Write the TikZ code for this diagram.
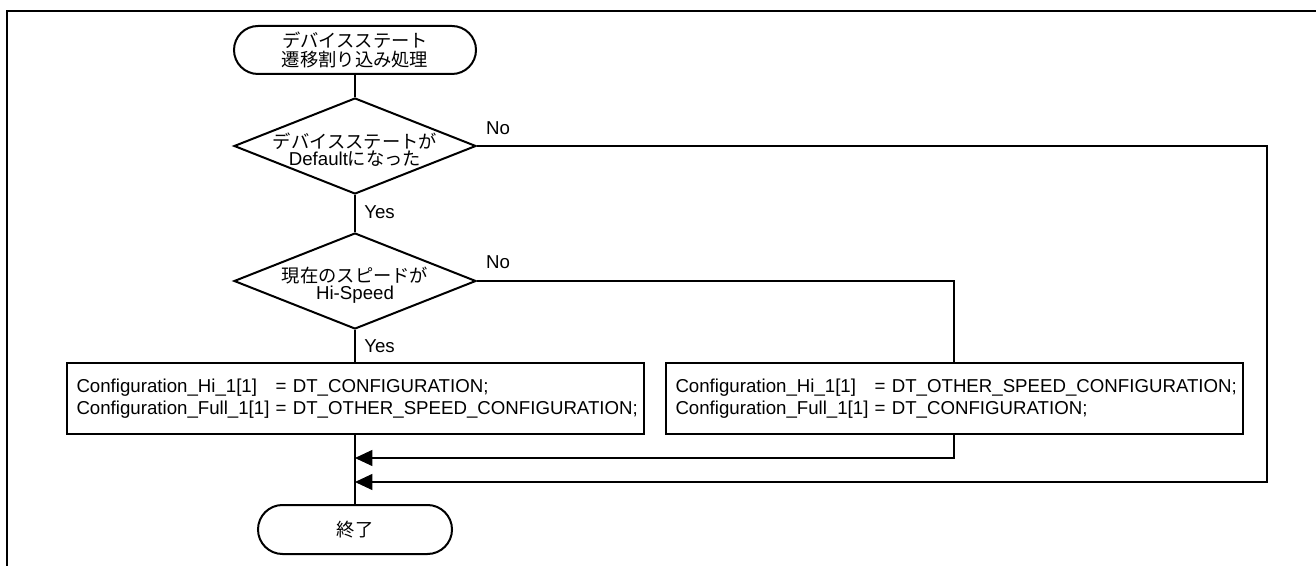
\documentclass[tikz,border=0pt]{standalone}
\usepackage{fontspec}
\setmainfont{Liberation Sans}
\newfontfamily\jp{Noto Sans CJK JP}[Scale=0.98]
\usetikzlibrary{shapes.geometric,shapes.misc,arrows.meta}

\tikzset{
  every node/.style={font=\fontsize{14pt}{16.5pt}\selectfont, inner sep=0pt},
  terminal/.style={rounded rectangle, draw, line width=1.5pt},
  decision/.style={diamond, draw, line width=1.5pt, minimum width=181.5pt, minimum height=72pt},
  procbox/.style={rectangle, draw, line width=1.5pt, minimum width=432.75pt,
                  minimum height=53.25pt, text width=417.75pt, align=left},
  flow/.style={line width=0.8pt},
  tip/.style={-{Triangle[length=13pt,width=12pt]}},
  lbl/.style={font=\fontsize{14pt}{16pt}\selectfont},
}

\begin{document}
\begin{tikzpicture}[x=0.75pt, y=-0.75pt]
\useasboundingbox (0,0) rectangle (1316,566);

% page frame (top and left edges)
\draw[line width=1.6pt] (7,566) -- (7,11) -- (1316,11);

% start / end terminals
\node[terminal, minimum width=181.5pt, minimum height=36pt, align=center,
      font=\fontsize{14pt}{14.25pt}\selectfont] (start) at (355,50)
  {\jp デバイスステート\\\jp 遷移割り込み処理};
\node[terminal, minimum width=145.5pt, minimum height=36.75pt] (end) at (355,529.5)
  {\jp 終了};

% decisions
\node[decision] (d1) at (355,146) {};
\node[align=center, font=\fontsize{14pt}{13pt}\selectfont] (d1t) at (355,150)
  {\jp デバイスステートが\\Default{\jp になった}};
\node[decision] (d2) at (355,281) {};
\node[align=center, font=\fontsize{14pt}{12.5pt}\selectfont] (d2t) at (355,285)
  {\jp 現在のスピードが\\Hi-Speed};

% processing boxes
\node[procbox] (boxL) at (355,398.5)
  {Configuration\_Hi\_1[1]\ \ \ = DT\_CONFIGURATION;\\
   Configuration\_Full\_1[1] = DT\_OTHER\_SPEED\_CONFIGURATION;};
\node[procbox] (boxR) at (954,398.5)
  {Configuration\_Hi\_1[1]\ \ \ = DT\_OTHER\_SPEED\_CONFIGURATION;\\
   Configuration\_Full\_1[1] = DT\_CONFIGURATION;};

% merge points on the main line and the outer return path
\coordinate (m1) at (355,458);
\coordinate (m2) at (355,482);
\coordinate (o1) at (1267,146);
\coordinate (o2) at (1267,482);

% main flow
\draw[flow] (start.south) -- (d1.north);
\draw[flow] (d1.south) -- (d2.north);
\draw[flow] (d2.south) -- (boxL.north);
\draw[flow] (boxL.south) -- (end.north);

% branches
\draw[flow] (d2.east) -| (boxR.north);
\draw[flow, tip] (boxR.south) |- (m1);
\draw[flow, tip] (d1.east) -- (o1) -- (o2) -- (m2);

% branch labels
\node[lbl] (no1) at (498,128) {No};
\node[lbl] (no2) at (498,262) {No};
\node[lbl, anchor=west] (yes1) at (364,212) {Yes};
\node[lbl, anchor=west] (yes2) at (364,346) {Yes};
\end{tikzpicture}
\end{document}
